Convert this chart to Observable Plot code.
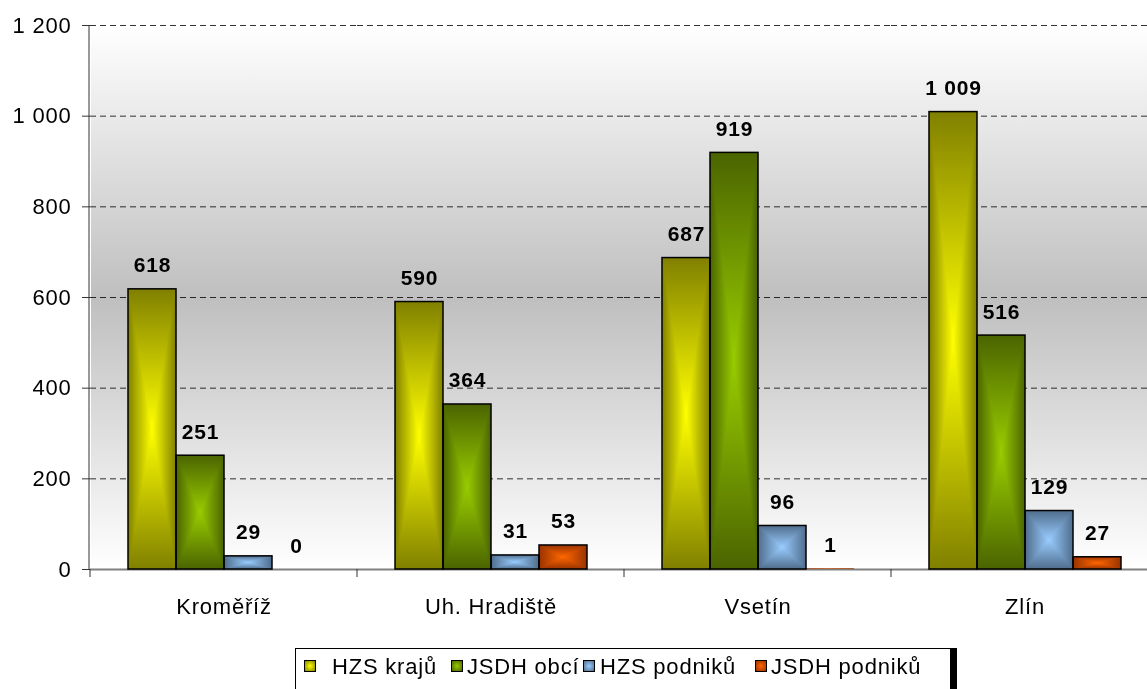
<!DOCTYPE html>
<html><head><meta charset="utf-8">
<script src="https://cdn.jsdelivr.net/npm/d3@7"></script>
<script src="https://cdn.jsdelivr.net/npm/@observablehq/plot@0.6"></script>
<style>
html,body{margin:0;padding:0;background:#fff;overflow:hidden;}
body{width:1147px;height:689px;position:relative;font-family:"Liberation Sans",Arial,sans-serif;}
#chart{position:absolute;left:0;top:0;}
#legend{position:absolute;left:295px;top:648px;width:662px;height:60px;border:1px solid #000;border-right:7px solid #000;box-sizing:border-box;background:#fff;font-size:22px;line-height:22px;color:#000;}
#legend .sw{position:absolute;top:11px;width:10px;height:10px;border:1px solid #000;}
#legend .tx{position:absolute;top:7px;white-space:nowrap;letter-spacing:0.8px;}
</style>
</head><body>
<div id="chart"></div>
<div id="legend"></div>
<script>
const categories = ["Kroměříž", "Uh. Hradiště", "Vsetín", "Zlín"];
const series = ["HZS krajů", "JSDH obcí", "HZS podniků", "JSDH podniků"];
const hzsKraju = [618, 590, 687, 1009];
const jsdhObci = [251, 364, 919, 516];
const hzsPodniku = [29, 31, 96, 129];
const jsdhPodniku = [0, 53, 1, 27];
const yTicks = [0, 200, 400, 600, 800, 1000, 1200];
const centerColors = ["#ffff00", "#99cc00", "#99ccff", "#ff6600"];
const edgeColors = ["#808000", "#4a6400", "#4f6d8c", "#993300"];

const valuesBySeries = [hzsKraju, jsdhObci, hzsPodniku, jsdhPodniku];
const data = categories.flatMap((c, ci) => series.map((s, si) => ({cat: c, series: s, si, value: valuesBySeries[si][ci]})));
const barData = data.filter(d => d.value > 0);

const fmt = d3.formatLocale({decimal: ",", thousands: " ", grouping: [3], currency: ["", ""]}).format(",d");

const chart = Plot.plot({
  width: 1158, height: 640,
  marginLeft: 89, marginRight: 0, marginTop: 25, marginBottom: 71,
  style: {fontFamily: "'Liberation Sans', Arial, sans-serif", background: "transparent", letterSpacing: "0.8px", color: "#000"},
  fx: {domain: categories, padding: 0, label: null},
  x: {domain: series, paddingInner: 0, paddingOuter: 0.74, axis: null},
  y: {domain: [0, 1200]},
  color: {type: "identity"},
  marks: [
    Plot.frame({fill: "url(#bgGrad)", stroke: "none", insetRight: -1, shapeRendering: "crispEdges"}),
    Plot.gridY(yTicks.filter(t => t > 0), {stroke: "#000", strokeOpacity: 0.8, strokeDasharray: "6,4"}),
    Plot.ruleY([0], {stroke: "#808080", strokeWidth: 2}),
    Plot.barY(barData, {fx: "cat", x: "series", y: "value", fill: d => `url(#h${d.si})`}),
    Plot.barY(barData, {fx: "cat", x: "series", y: "value", fill: d => `url(#v${d.si})`, mixBlendMode: "darken"}),
    Plot.barY(barData.filter(d => d.value > 1), {fx: "cat", x: "series", y: "value", fill: "none", stroke: "#000", strokeWidth: 1.5}),
    Plot.text(data, {fx: "cat", x: "series", y: "value", text: d => fmt(d.value), dy: -17, lineAnchor: "bottom", fontWeight: "bold", fontSize: 21}),
    Plot.axisY(yTicks, {tickSize: 8, tickPadding: 11, fontSize: 22, tickFormat: fmt, stroke: "#333", label: null}),
    Plot.axisFx({anchor: "bottom", tickSize: 0, tickPadding: 37, lineAnchor: "middle", fontSize: 22, label: null})
  ]
});
chart.style.maxWidth = "none";
document.getElementById("chart").appendChild(chart);

const svg = d3.select(chart);
const defs = svg.insert("defs", ":first-child");
const bg = defs.append("linearGradient").attr("id", "bgGrad").attr("x1", 0).attr("y1", 0).attr("x2", 0).attr("y2", 1);
[[0, "#ffffff"], [0.5, "#bfbfbf"], [1, "#ffffff"]].forEach(([o, c]) => bg.append("stop").attr("offset", o).attr("stop-color", c));
series.forEach((s, i) => {
  const h = defs.append("linearGradient").attr("id", "h" + i).attr("x1", 0).attr("y1", 0).attr("x2", 1).attr("y2", 0);
  const v = defs.append("linearGradient").attr("id", "v" + i).attr("x1", 0).attr("y1", 0).attr("x2", 0).attr("y2", 1);
  for (const g of [h, v]) {
    g.append("stop").attr("offset", 0).attr("stop-color", edgeColors[i]);
    g.append("stop").attr("offset", 0.5).attr("stop-color", centerColors[i]);
    g.append("stop").attr("offset", 1).attr("stop-color", edgeColors[i]);
  }
});

// y axis line and category boundary ticks, positioned via Plot's scales
const fxs = chart.scale("fx"), ys = chart.scale("y");
const axg = svg.append("g").attr("stroke", "#333").attr("stroke-width", 1);
axg.append("line").attr("x1", fxs.range[0]).attr("x2", fxs.range[0]).attr("y1", ys.apply(1200)).attr("y2", ys.apply(0));
categories.forEach(c => {
  const x = fxs.apply(c);
  axg.append("line").attr("x1", x).attr("x2", x).attr("y1", ys.apply(0)).attr("y2", ys.apply(0) + 8);
});

// legend
const legend = document.getElementById("legend");
const swX = [8, 155, 287, 459];
const txX = [36, 171, 304, 475];
series.forEach((s, i) => {
  const sw = document.createElement("div");
  sw.className = "sw";
  sw.style.left = swX[i] + "px";
  sw.style.background = `radial-gradient(circle, ${centerColors[i]} 0%, ${edgeColors[i]} 100%)`;
  legend.appendChild(sw);
  const tx = document.createElement("div");
  tx.className = "tx";
  tx.style.left = txX[i] + "px";
  tx.textContent = s;
  legend.appendChild(tx);
});
</script>
</body></html>
